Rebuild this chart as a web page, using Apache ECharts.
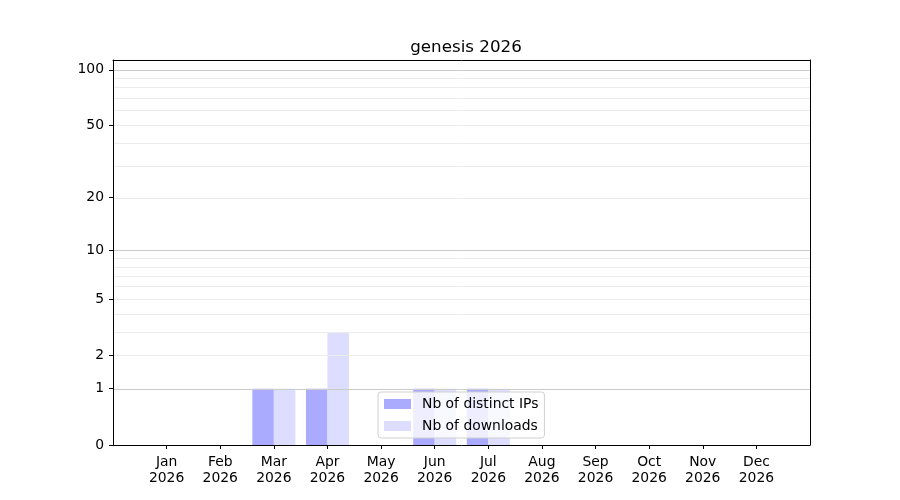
<!DOCTYPE html>
<html>
<head>
<meta charset="utf-8">
<script src="https://cdn.jsdelivr.net/npm/echarts@6/dist/echarts.min.js"></script>
<style>
html, body { margin: 0; padding: 0; background: #fff; }
#chart { width: 900px; height: 500px; }
</style>
</head>
<body>
<div id="chart"></div>
<script>
var months = ["Jan", "Feb", "Mar", "Apr", "May", "Jun", "Jul", "Aug", "Sep", "Oct", "Nov", "Dec"];
var year = "2026";
var distinctIps = [0, 0, 1, 1, 0, 1, 1, 0, 0, 0, 0, 0];
var downloads = [0, 0, 1, 3, 0, 1, 1, 0, 0, 0, 0, 0];
var yTicks = [0, 1, 2, 5, 10, 20, 50, 100];
var majorGrid = [1, 10, 100];
var minorGrid = [2, 3, 4, 5, 6, 7, 8, 9, 20, 30, 40, 50, 60, 70, 80, 90];
var yTop = 113;

// y axis is log10(1 + v), same as the original scale
function tr(v) { return Math.log10(1 + v); }
function untr(t) { return Math.round(Math.pow(10, t) - 1); }

// one empty slot on each side, so the months sit one step in from the frame
var cats = [""].concat(months.map(function (m) { return m + "\n" + year; }), [""]);
function pad(arr) {
    return [null].concat(arr.map(function (v) { return tr(v); }), [null]);
}
function gridLines(vals, color) {
    return vals.map(function (v) {
        return { yAxis: tr(v), lineStyle: { color: color, width: 1, type: "solid" } };
    });
}

var chart = echarts.init(document.getElementById("chart"));
var font = "DejaVu Sans";
var frameAxis = {
    axisLine: { show: true, onZero: false, lineStyle: { color: "#000", width: 1 } },
    axisTick: { show: false },
    axisLabel: { show: false },
    splitLine: { show: false },
    z: 10
};

chart.setOption({
    animation: false,
    textStyle: { fontFamily: font },
    title: {
        text: "genesis 2026",
        left: 461,
        top: 34,
        textAlign: "center",
        textStyle: { fontFamily: font, fontSize: 16.7, fontWeight: "normal", color: "#000" }
    },
    grid: { left: 113, right: 90, top: 60, bottom: 55 },
    legend: {
        orient: "vertical",
        left: 378,
        top: 392,
        icon: "rect",
        itemWidth: 27,
        itemHeight: 10,
        itemGap: 8,
        padding: [5, 6, 5, 6],
        backgroundColor: "rgba(255,255,255,0.8)",
        borderColor: "#d0d0d0",
        borderWidth: 1,
        borderRadius: 3,
        textStyle: { fontFamily: font, fontSize: 13.9, color: "#000", padding: [0, 0, 0, 6] },
        data: ["Nb of distinct IPs", "Nb of downloads"]
    },
    xAxis: [{
        type: "category",
        data: cats,
        boundaryGap: false,
        z: 10,
        axisLine: { lineStyle: { color: "#000", width: 1 } },
        axisTick: {
            length: 4,
            lineStyle: { color: "#000" },
            interval: function (i) { return i > 0 && i < cats.length - 1; }
        },
        axisLabel: {
            interval: 0,
            fontFamily: font, fontSize: 13.9, color: "#000", lineHeight: 16, margin: 9
        },
        splitLine: { show: false }
    }, Object.assign({
        type: "category",
        data: cats,
        boundaryGap: false,
        position: "top"
    }, frameAxis)],
    yAxis: [{
        type: "value",
        min: 0,
        max: tr(yTop),
        z: 10,
        axisLine: { show: true, lineStyle: { color: "#000" } },
        axisTick: {
            show: true, length: 4, lineStyle: { color: "#000" },
            customValues: yTicks.map(tr)
        },
        axisLabel: {
            fontFamily: font, fontSize: 13.9, color: "#000", margin: 9,
            customValues: yTicks.map(tr),
            formatter: function (t) { return String(untr(t)); }
        },
        splitLine: { show: false }
    }, Object.assign({
        type: "value",
        min: 0,
        max: tr(yTop),
        position: "right"
    }, frameAxis)],
    series: [
        {
            name: "grid",
            type: "line",
            data: [],
            silent: true,
            z: 0,
            markLine: {
                silent: true,
                symbol: "none",
                label: { show: false },
                animation: false,
                data: gridLines(minorGrid, "#ececec").concat(gridLines(majorGrid, "#cccccc"))
            }
        },
        {
            name: "Nb of distinct IPs",
            type: "bar",
            data: pad(distinctIps),
            barWidth: 21.5,
            barGap: "0%",
            itemStyle: { color: "#aaaaff" },
            z: 2
        },
        {
            name: "Nb of downloads",
            type: "bar",
            data: pad(downloads),
            barWidth: 21.5,
            barGap: "0%",
            itemStyle: { color: "#ddddff" },
            z: 2
        }
    ]
});
</script>
</body>
</html>
